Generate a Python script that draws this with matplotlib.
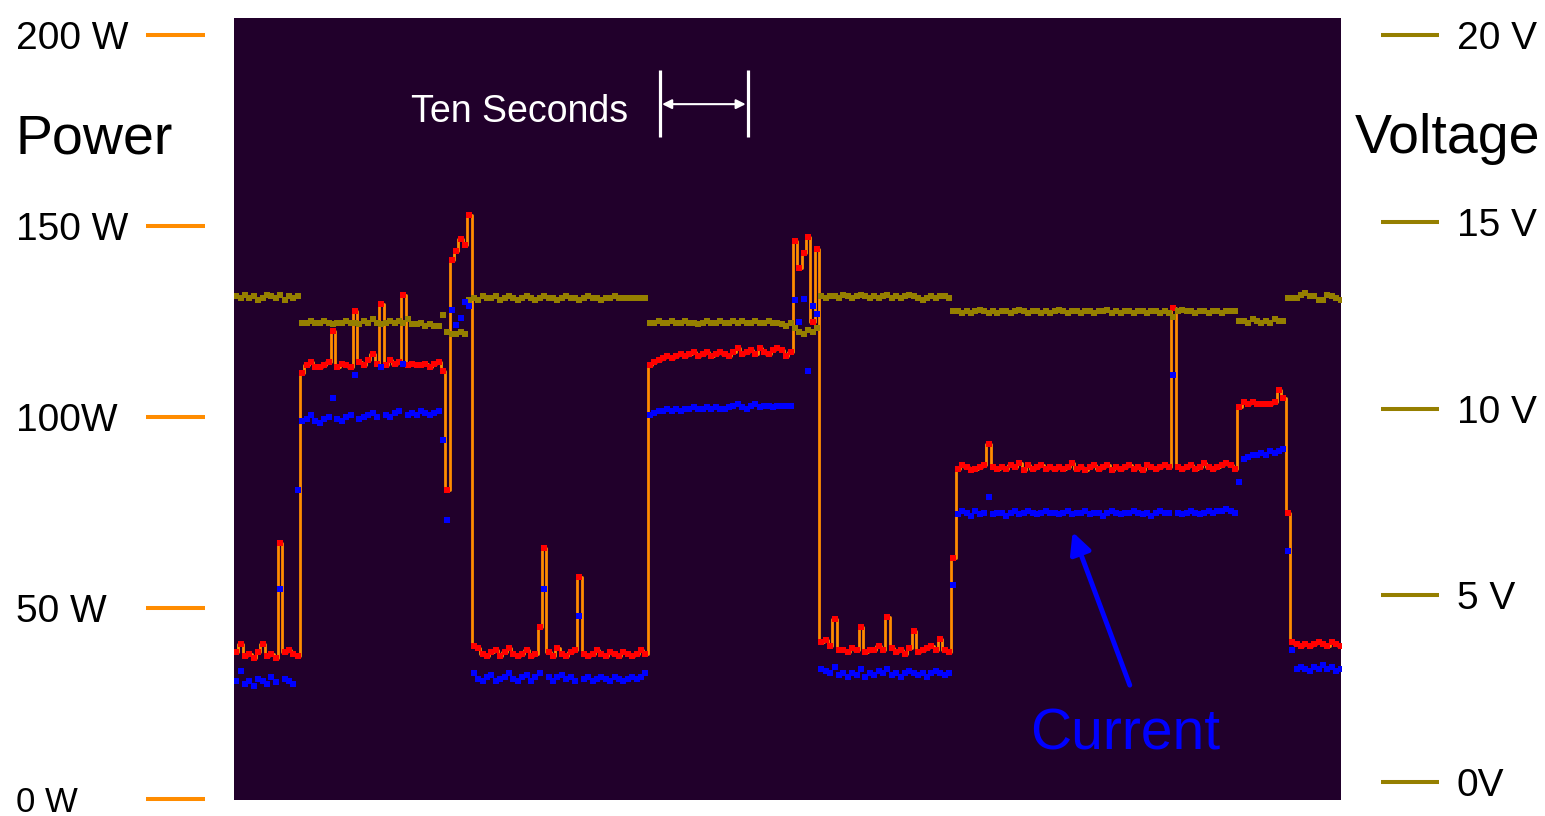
import numpy as np
import matplotlib
matplotlib.use("Agg")
import matplotlib.pyplot as plt
from matplotlib.transforms import blended_transform_factory

plt.rcParams["font.family"] = ["Liberation Sans", "DejaVu Sans"]

# sample clock of the logger (seconds)
sample_dt = 0.5
t_start = 0.25
t_span = 125.8

# power (W), read segment by segment
p_low1 = [38.5, 40.5, 37.5, 38.0, 37.0, 38.5, 40.5, 37.5, 38.0, 37.0, 67.0, 38.5, 39.0, 38.0, 37.5]
p_plat1 = [111.5, 113.5, 114.5, 113.0, 113.0, 113.5, 114.5, 122.5, 113.0, 114.0,
           113.5, 113.0, 127.7, 114.5, 113.5, 115.0, 116.5, 114.0, 129.6, 113.5,
           115.0, 114.0, 114.5, 132.0, 113.5, 114.0, 113.5, 113.5, 114.0, 113.0,
           114.0, 114.5, 112.0]
p_peak1 = [81.0, 141.0, 143.5, 146.5, 145.0, 153.0]
p_low2 = [40.0, 39.5, 38.0, 37.5, 38.5, 39.0, 37.5, 38.5, 39.5, 38.0,
          37.5, 38.0, 39.0, 37.5, 38.0, 45.0, 65.7, 38.5, 37.5, 39.5,
          38.0, 37.5, 38.5, 39.0, 58.0, 38.0, 37.5, 38.0, 39.0, 38.0,
          37.5, 38.5, 38.0, 37.5, 38.5, 38.0, 37.5, 38.0, 39.0, 38.0]
p_plat2 = [113.5, 114.5, 115.0, 115.5, 116.0, 115.5, 116.0, 116.5, 116.0, 116.5,
           117.0, 116.0, 116.5, 117.0, 116.0, 116.5, 117.0, 116.5, 116.0, 117.0,
           118.0, 116.5, 117.0, 117.5, 116.5, 118.0, 117.0, 116.5, 117.5, 118.0,
           117.5, 116.0, 117.0]
p_peak2 = [146.0, 139.0, 143.0, 147.0, 125.0, 144.0]
p_low3 = [41.0, 41.5, 40.0, 47.0, 39.0, 39.0, 38.5, 39.5, 39.0, 45.0,
          38.5, 39.0, 39.0, 40.0, 39.0, 47.6, 39.5, 38.5, 39.0, 38.0,
          39.5, 44.0, 38.5, 39.0, 39.5, 40.0, 39.0, 42.0, 39.0, 38.5]
p_rise = [63.0]
p_plat3 = [86.5, 87.5, 87.0, 86.0, 86.5, 87.0, 87.5, 93.0, 87.0, 86.5,
           87.0, 86.5, 87.5, 87.0, 88.0, 86.0, 87.5, 86.5, 87.0, 87.5,
           86.5, 87.0, 86.5, 87.0, 86.5, 87.0, 88.0, 86.5, 87.0, 86.0,
           87.0, 87.5, 86.5, 87.0, 87.5, 86.0, 87.0, 86.5, 87.0, 87.5,
           86.5, 87.0, 86.0, 87.5, 87.0, 86.5, 87.0, 87.5, 87.0, 128.5,
           87.0, 86.5, 87.0, 87.5, 86.5, 87.0, 88.0, 87.0, 86.5, 87.0,
           87.5, 88.0, 87.5, 86.5]
p_step = [102.5, 104.0, 103.5, 104.0, 103.5, 103.5, 103.5, 103.5, 104.0, 107.0, 105.0]
p_fall = [75.0]
p_low4 = [41.0, 40.5, 40.0, 40.5, 40.0, 40.5, 41.0, 40.5, 40.0, 41.0, 40.5, 40.0]

# current (A)
c_low1 = [3.1, 3.35, 3.0, 3.1, 2.95, 3.15, 3.1, 3.0, 3.2, 3.05, 5.5, 3.15, 3.1, 3.0, 8.1]
c_plat1 = [9.9, 9.95, 10.05, 9.9, 9.85, 9.95, 10.0, 10.5, 9.95, 9.9,
           10.0, 10.05, 11.1, 9.95, 10.0, 10.05, 10.1, 10.0, 11.3, 10.05,
           10.0, 10.1, 10.15, 11.4, 10.05, 10.1, 10.05, 10.15, 10.1, 10.05,
           10.1, 10.15, 9.4]
c_peak1 = [7.3, 12.8, 12.4, 12.6, 13.0, 12.9]
c_low2 = [3.3, 3.15, 3.1, 3.2, 3.25, 3.1, 3.15, 3.2, 3.3, 3.15,
          3.1, 3.2, 3.25, 3.1, 3.2, 3.3, 5.5, 3.2, 3.1, 3.2,
          3.25, 3.15, 3.2, 3.1, 4.8, 3.15, 3.2, 3.1, 3.15, 3.2,
          3.15, 3.1, 3.2, 3.15, 3.1, 3.15, 3.2, 3.15, 3.2, 3.3]
c_plat2 = [10.05, 10.1, 10.15, 10.15, 10.2, 10.15, 10.2, 10.15, 10.2, 10.2,
           10.25, 10.2, 10.2, 10.25, 10.2, 10.25, 10.2, 10.2, 10.25, 10.3,
           10.35, 10.25, 10.2, 10.3, 10.35, 10.25, 10.3, 10.3, 10.25, 10.3,
           10.3, 10.3, 10.3]
c_peak2 = [13.05, 12.5, 13.1, 11.2, 12.9, 12.7]
c_low3 = [3.4, 3.35, 3.3, 3.45, 3.25, 3.3, 3.2, 3.3, 3.25, 3.4,
          3.2, 3.3, 3.25, 3.35, 3.3, 3.4, 3.25, 3.3, 3.2, 3.3,
          3.35, 3.3, 3.25, 3.3, 3.2, 3.3, 3.35, 3.3, 3.25, 3.3]
c_rise = [5.6]
c_plat3 = [7.45, 7.55, 7.5, 7.4, 7.55, 7.45, 7.5, 7.9, 7.45, 7.5,
           7.5, 7.4, 7.5, 7.55, 7.45, 7.5, 7.55, 7.5, 7.45, 7.5,
           7.55, 7.5, 7.5, 7.45, 7.5, 7.55, 7.45, 7.5, 7.5, 7.55,
           7.45, 7.5, 7.5, 7.4, 7.5, 7.55, 7.5, 7.45, 7.5, 7.5,
           7.55, 7.5, 7.45, 7.5, 7.4, 7.5, 7.55, 7.5, 7.5, 11.1,
           7.5, 7.45, 7.5, 7.55, 7.5, 7.45, 7.5, 7.55, 7.5, 7.55,
           7.55, 7.6, 7.55, 7.5]
c_step = [8.3, 8.9, 8.95, 9.0, 9.0, 9.05, 9.0, 9.1, 9.05, 9.1, 9.15]
c_fall = [6.5]
c_low4 = [3.9, 3.4, 3.45, 3.4, 3.35, 3.45, 3.4, 3.5, 3.4, 3.45, 3.35, 3.4]

# voltage (V)
v_low1 = [13.0, 12.95, 13.05, 12.95, 13.0, 12.9, 12.95, 13.05, 13.0, 12.95, 13.05, 12.9, 13.0, 12.95, 13.0]
v_plat1 = [12.3, 12.3, 12.35, 12.3, 12.3, 12.35, 12.3, 12.25, 12.3, 12.3,
           12.35, 12.3, 12.3, 12.25, 12.35, 12.3, 12.4, 12.3, 12.25, 12.3,
           12.35, 12.3, 12.35, 12.3, 12.4, 12.25, 12.25, 12.3, 12.2, 12.25,
           12.2, 12.2, 12.5]
v_peak1 = [12.05, 12.0, 12.0, 12.05, 12.0, 12.9]
v_low2 = [12.95, 12.9, 13.0, 12.95, 12.95, 13.0, 12.9, 12.95, 13.0, 12.95,
          12.9, 12.95, 13.0, 12.95, 12.9, 12.95, 13.0, 12.95, 12.95, 12.9,
          12.95, 13.0, 12.95, 12.95, 12.9, 12.95, 13.0, 12.95, 12.95, 12.9,
          12.95, 12.95, 13.0, 12.95, 12.95, 12.95, 12.95, 12.95, 12.95, 12.95]
v_plat2 = [12.3, 12.3, 12.35, 12.3, 12.3, 12.35, 12.3, 12.3, 12.35, 12.3,
           12.3, 12.25, 12.3, 12.35, 12.3, 12.3, 12.35, 12.3, 12.3, 12.35,
           12.3, 12.35, 12.3, 12.3, 12.35, 12.3, 12.3, 12.35, 12.3, 12.3,
           12.25, 12.2, 12.3]
v_peak2 = [12.15, 12.05, 12.0, 12.1, 12.05, 12.15]
v_low3 = [13.0, 12.95, 13.0, 13.0, 12.95, 13.05, 13.0, 12.95, 13.0, 13.05,
          13.0, 12.95, 13.0, 12.95, 13.0, 13.05, 12.95, 13.0, 12.95, 13.0,
          13.05, 13.0, 12.95, 12.9, 12.95, 13.0, 12.95, 13.0, 13.0, 12.95]
v_rise = [12.6]
v_plat3 = [12.6, 12.55, 12.6, 12.55, 12.6, 12.65, 12.6, 12.55, 12.6, 12.55,
           12.6, 12.6, 12.55, 12.6, 12.65, 12.6, 12.55, 12.6, 12.6, 12.55,
           12.6, 12.55, 12.6, 12.65, 12.6, 12.55, 12.6, 12.6, 12.55, 12.6,
           12.6, 12.55, 12.6, 12.6, 12.65, 12.55, 12.6, 12.55, 12.6, 12.6,
           12.55, 12.6, 12.6, 12.55, 12.6, 12.6, 12.55, 12.6, 12.55, 12.45,
           12.6, 12.65, 12.6, 12.6, 12.55, 12.6, 12.6, 12.55, 12.6, 12.6,
           12.55, 12.6, 12.6, 12.6]
v_step = [12.35, 12.35, 12.3, 12.4, 12.35, 12.3, 12.35, 12.3, 12.4, 12.35, 12.35]
v_fall = [12.95]
v_low4 = [12.95, 12.95, 13.05, 13.1, 13.0, 13.0, 12.9, 12.9, 13.05, 13.0, 12.95, 12.9]

power_ticks = [0, 50, 100, 150, 200]
power_labels = ["0 W", "50 W", "100W", "150 W", "200 W"]
volt_ticks = [0, 5, 10, 15, 20]
volt_labels = ["0V", "5 V", "10 V", "15 V", "20 V"]

power = np.array(p_low1 + p_plat1 + p_peak1 + p_low2 + p_plat2 + p_peak2
                 + p_low3 + p_rise + p_plat3 + p_step + p_fall + p_low4)
current = np.array(c_low1 + c_plat1 + c_peak1 + c_low2 + c_plat2 + c_peak2
                   + c_low3 + c_rise + c_plat3 + c_step + c_fall + c_low4)
voltage = np.array(v_low1 + v_plat1 + v_peak1 + v_low2 + v_plat2 + v_peak2
                   + v_low3 + v_rise + v_plat3 + v_step + v_fall + v_low4)

t_p = t_start + sample_dt * np.arange(len(power))
t_c = t_start + sample_dt * np.arange(len(current))
t_v = t_start + sample_dt * np.arange(len(voltage))

BG = "#21002b"
ORANGE = "#ff8c00"
RED = "#ff0000"
BLUE = "#0000ff"
OLIVE = "#957f00"

fig = plt.figure(figsize=(15.45, 8.16), dpi=100)
ax = fig.add_axes([234 / 1545, 16 / 816, 1107 / 1545, 782 / 816])
ax.set_facecolor(BG)
ax_v = ax.twinx()
ax_i = ax.twinx()

ax.set_xlim(0, t_span)
ax.set_ylim(-0.26, 204.45)
ax_v.set_ylim(-0.48, 20.455)
ax_i.set_ylim(-0.026, 20.445)

ax.plot(t_p, power, color=ORANGE, lw=2.0, drawstyle="steps-mid", zorder=2)
ax.plot(t_p, power, ls="none", marker="s", ms=4.3, mew=0, color=RED, zorder=3)
ax_v.plot(t_v, voltage, ls="none", marker="s", ms=4.6, mew=0, color=OLIVE)
ax_i.plot(t_c, current, ls="none", marker="s", ms=4.3, mew=0, color=BLUE)

for a in (ax, ax_v, ax_i):
    for s in a.spines.values():
        s.set_visible(False)
    a.set_xticks([])
ax_i.set_yticks([])

# power axis labels and detached tick bars
ax.set_yticks(power_ticks, power_labels)
ax.tick_params(axis="y", length=0, pad=157, labelsize=28, labelcolor="black")
for lbl in ax.get_yticklabels():
    lbl.set_horizontalalignment("left")
ax.get_yticklabels()[0].set_fontsize(25)
tr_l = blended_transform_factory(ax.transAxes, ax.transData)
for p in power_ticks:
    ax.plot([-0.0795, -0.0262], [p, p], color=ORANGE, lw=2.9,
            transform=tr_l, clip_on=False, solid_capstyle="butt")

ax_v.set_yticks(volt_ticks, volt_labels)
ax_v.tick_params(axis="y", length=0, pad=83.5, labelsize=28, labelcolor="black")
tr_r = blended_transform_factory(ax_v.transAxes, ax_v.transData)
for v in volt_ticks:
    ax_v.plot([1.0361, 1.0885], [v, v], color=OLIVE, lw=2.9,
              transform=tr_r, clip_on=False, solid_capstyle="butt")

fig.text(16 / 1545, 1 - 153 / 816, "Power", fontsize=40, ha="left", va="baseline")
fig.text(1355 / 1545, 1 - 153 / 816, "Voltage", fontsize=40, ha="left", va="baseline")

# ten second scale bar
ax.text((411 - 234) / 8.8, (799 - 122) / 3.82, "Ten Seconds",
        color="white", fontsize=27, ha="left", va="baseline")
bar_t0, bar_t1 = 48.4, 58.4
ax.plot([bar_t0, bar_t0], [173.3, 190.8], color="white", lw=2.3, solid_capstyle="butt")
ax.plot([bar_t1, bar_t1], [173.3, 190.8], color="white", lw=2.3, solid_capstyle="butt")
ax.annotate("", xy=(bar_t0 + 0.25, 181.9), xytext=(bar_t1 - 0.25, 181.9),
            arrowprops=dict(arrowstyle="<|-|>", color="white", lw=1.5,
                            mutation_scale=14, shrinkA=0, shrinkB=0))

# current label
ax.text((1030 - 234) / 8.8, (799 - 749) / 3.82, "Current", color=BLUE,
        fontsize=41, ha="left", va="baseline")
ax.annotate("", xy=(95.3, 69.9), xytext=(101.8, 29.8),
            arrowprops=dict(arrowstyle="-|>", color=BLUE, lw=3.5,
                            mutation_scale=32, shrinkA=0, shrinkB=0))

fig.savefig("out.png", dpi=100)
